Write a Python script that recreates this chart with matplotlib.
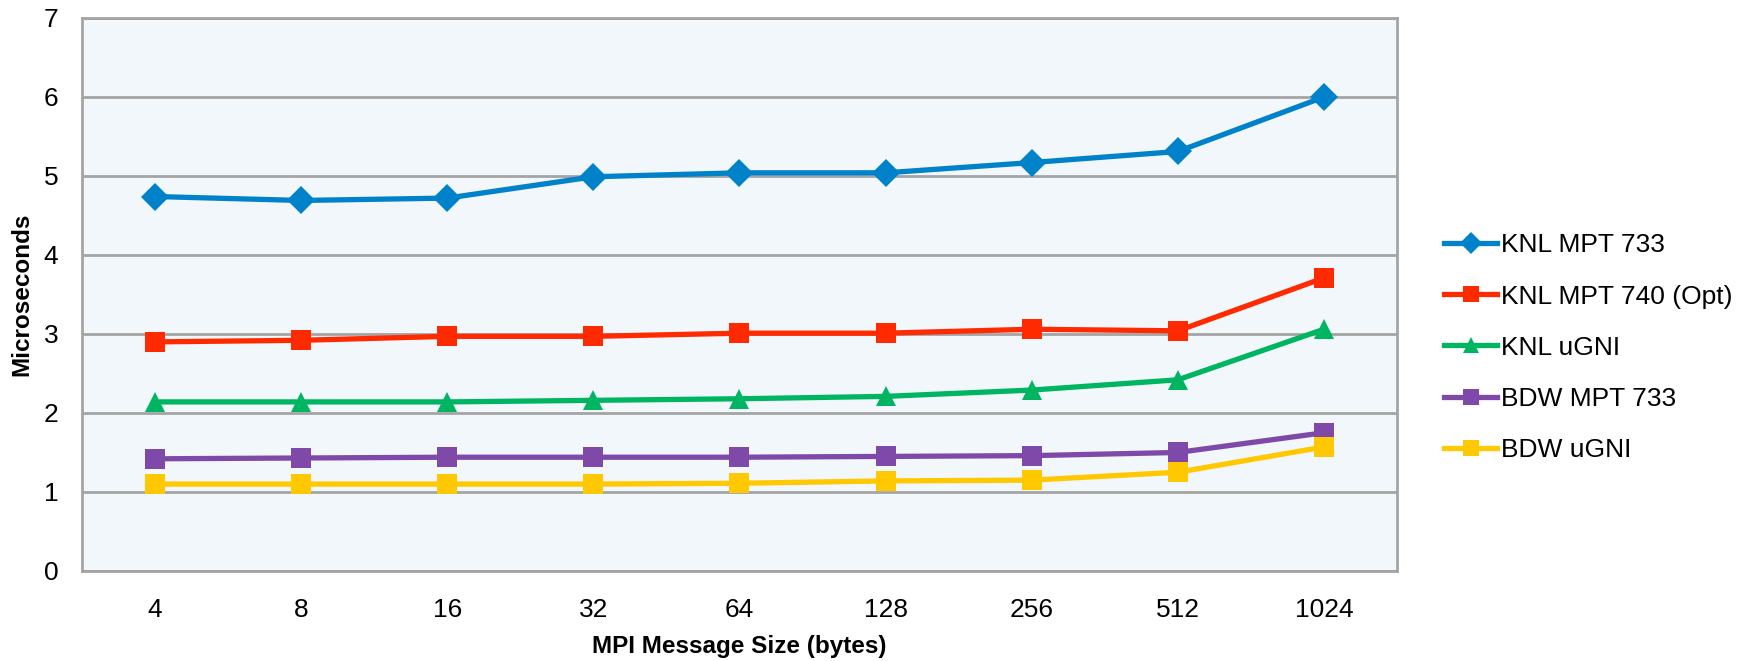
import matplotlib
matplotlib.use("Agg")
import matplotlib.pyplot as plt

plt.rcParams['font.family'] = ['Liberation Sans', 'DejaVu Sans']

# MPI message sizes (bytes) and latency per configuration (microseconds)
sizes = ['4', '8', '16', '32', '64', '128', '256', '512', '1024']
knl_mpt733 = [4.74, 4.69, 4.72, 4.99, 5.04, 5.04, 5.17, 5.31, 6.00]
knl_mpt740 = [2.90, 2.92, 2.97, 2.97, 3.01, 3.01, 3.06, 3.04, 3.71]
knl_ugni = [2.14, 2.14, 2.14, 2.16, 2.18, 2.21, 2.29, 2.42, 3.06]
bdw_mpt733 = [1.42, 1.43, 1.44, 1.44, 1.44, 1.45, 1.46, 1.50, 1.75]
bdw_ugni = [1.10, 1.10, 1.10, 1.10, 1.11, 1.14, 1.15, 1.25, 1.57]

series = [
    ('KNL MPT 733', knl_mpt733, '#0082CA', 'D', 14),
    ('KNL MPT 740 (Opt)', knl_mpt740, '#FF2A00', 's', 15),
    ('KNL uGNI', knl_ugni, '#00B561', '^', 15),
    ('BDW MPT 733', bdw_mpt733, '#7F49A9', 's', 15),
    ('BDW uGNI', bdw_ugni, '#FFC800', 's', 15),
]

fig = plt.figure(figsize=(17.4, 6.61), dpi=100)
ax = fig.add_axes([0.0471, 0.1362, 0.7558, 0.8366])
ax.set_facecolor('#F2F7FB')

x = list(range(len(sizes)))
for label, values, color, marker, msize in series:
    ax.plot(x, values, color=color, linewidth=3.8, marker=marker,
            markersize=msize, markeredgewidth=0, label=label, zorder=3)

ax.set_xlim(-0.5, len(sizes) - 0.5)
ax.set_ylim(0, 7)
ax.set_yticks(range(0, 8))
ax.set_xticks(x)
ax.set_xticklabels(sizes)
ax.tick_params(axis='both', length=0, labelsize=19, colors='black')
ax.tick_params(axis='y', pad=17)
ax.tick_params(axis='x', pad=19.5)

ax.grid(axis='y', color='#A4A4A4', linewidth=2, zorder=1)
ax.set_axisbelow(True)
for spine in ax.spines.values():
    spine.set_color('#A4A4A4')
    spine.set_linewidth(2)

ax.set_xlabel('MPI Message Size (bytes)', fontsize=17.5, fontweight='bold', labelpad=9)
ax.set_ylabel('Microseconds', fontsize=17.5, fontweight='bold', labelpad=7.5)

fig.legend(loc='center left', bbox_to_anchor=(0.8164, 0.474), frameon=False,
           fontsize=19, handlelength=2.0, handletextpad=0.15, labelspacing=1.03,
           markerscale=0.8)

fig.savefig('out.png', dpi=100)
